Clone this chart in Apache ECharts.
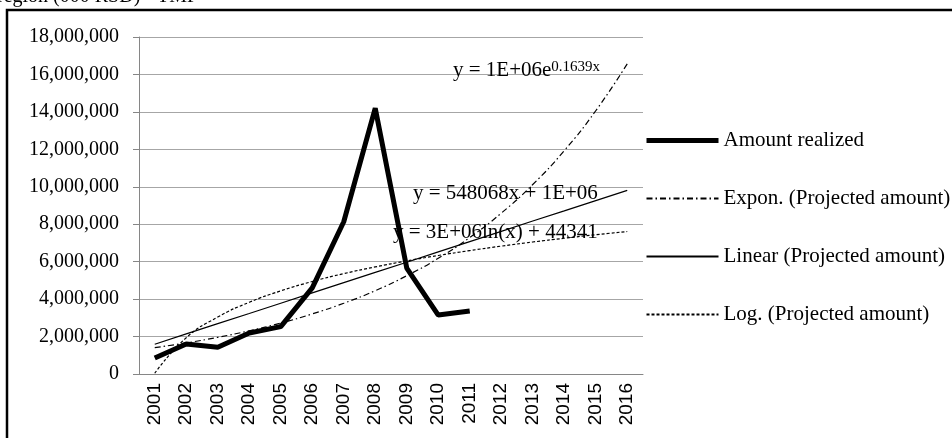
<!DOCTYPE html>
<html>
<head>
<meta charset="utf-8">
<script src="https://cdn.jsdelivr.net/npm/echarts@6/dist/echarts.min.js"></script>
<style>
  html, body { margin: 0; padding: 0; background: #fff; }
  #chart { width: 952px; height: 438px; }
</style>
</head>
<body>
<div id="chart"></div>
<script>
// 数据
var years = ['2001', '2002', '2003', '2004', '2005', '2006', '2007', '2008',
             '2009', '2010', '2011', '2012', '2013', '2014', '2015', '2016'];
var amountRealized = [850000, 1600000, 1430000, 2190000, 2530000, 4600000, 8130000, 14200000,
                      5660000, 3150000, 3370000];
var exponTrend = [1410000, 1660000, 1960000, 2310000, 2720000, 3210000, 3780000, 4450000,
                  5250000, 6180000, 7290000, 8590000, 10120000, 11930000, 14060000, 16570000];
var linearTrend = [1590000, 2140000, 2690000, 3230000, 3780000, 4330000, 4880000, 5430000,
                   5970000, 6520000, 7070000, 7620000, 8170000, 8710000, 9260000, 9810000];
var logTrend = [40000, 1940000, 3040000, 3830000, 4440000, 4940000, 5360000, 5720000,
                6040000, 6330000, 6590000, 6830000, 7050000, 7250000, 7440000, 7610000];
var seriesNames = ['Amount realized', 'Expon. (Projected amount)', 'Linear (Projected amount)', 'Log. (Projected amount)'];

var myChart = echarts.init(document.getElementById('chart'));

var serif = 'Liberation Serif';

var option = {
    animation: false,
    backgroundColor: '#fff',
    grid: { left: 139, right: 309, top: 37, bottom: 64 },
    legend: {
        orient: 'vertical',
        left: 639,
        top: 125,
        itemWidth: 72,
        itemHeight: 14,
        itemGap: 37,
        itemStyle: { opacity: 0 },
        textStyle: { fontFamily: serif, fontSize: 21, color: '#000' },
        data: [
            { name: seriesNames[0], lineStyle: { width: 5 } },
            { name: seriesNames[1] },
            { name: seriesNames[2] },
            { name: seriesNames[3] }
        ]
    },
    xAxis: {
        type: 'category',
        data: years,
        boundaryGap: true,
        axisLine: { lineStyle: { color: '#868686', width: 1 } },
        axisTick: { length: 6, lineStyle: { color: '#868686' } },
        axisLabel: { rotate: 90, margin: 9, fontFamily: 'Liberation Sans', fontSize: 19, color: '#000', interval: 0 }
    },
    yAxis: {
        type: 'value',
        min: 0,
        max: 18000000,
        interval: 2000000,
        axisLine: { show: true, lineStyle: { color: '#868686', width: 1 } },
        axisTick: { show: true, length: 6, lineStyle: { color: '#868686' } },
        axisLabel: {
            margin: 20,
            fontFamily: serif,
            fontSize: 20,
            color: '#000',
            formatter: function (v) { return v.toLocaleString('en-US'); }
        },
        splitLine: { lineStyle: { color: '#a6a6a6', width: 1 } }
    },
    series: [
        {
            name: seriesNames[0],
            type: 'line',
            data: amountRealized,
            symbol: 'none',
            lineStyle: { color: '#000', width: 5 },
            itemStyle: { color: '#000' },
            z: 2
        },
        {
            name: seriesNames[1],
            type: 'line',
            data: exponTrend,
            symbol: 'none',
            smooth: true,
            lineStyle: { color: '#000', width: 1.2, type: [6, 3, 1.5, 3] },
            itemStyle: { color: '#000' },
            z: 3
        },
        {
            name: seriesNames[2],
            type: 'line',
            data: linearTrend,
            symbol: 'none',
            lineStyle: { color: '#000', width: 1.2 },
            itemStyle: { color: '#000' },
            z: 3
        },
        {
            name: seriesNames[3],
            type: 'line',
            data: logTrend,
            symbol: 'none',
            smooth: true,
            lineStyle: { color: '#000', width: 1.2, type: [3, 2] },
            itemStyle: { color: '#000' },
            z: 3
        }
    ],
    graphic: [
        {
            type: 'rect',
            shape: { x: 7, y: 10, width: 980, height: 460 },
            style: { fill: null, stroke: '#000', lineWidth: 2.5 },
            silent: true
        },
        {
            type: 'text',
            x: -3, y: 7,
            style: { text: 'region (000 RSD) - TMP', font: '20px "Liberation Serif"', fill: '#000', verticalAlign: 'bottom' }
        },
        {
            type: 'text',
            x: 453, y: 60,
            z: 10,
            style: {
                text: '{a|y = 1E+06e}{s|0.1639x}',
                rich: {
                    a: { fontFamily: serif, fontSize: 21, color: '#000' },
                    s: { fontFamily: serif, fontSize: 15, color: '#000', verticalAlign: 'top' }
                }
            }
        },
        {
            type: 'text',
            x: 413, y: 183,
            z: 10,
            style: { text: 'y = 548068x + 1E+06', font: '21px "Liberation Serif"', fill: '#000' }
        },
        {
            type: 'text',
            x: 393, y: 222,
            z: 10,
            style: { text: 'y = 3E+06ln(x) + 44341', font: '21px "Liberation Serif"', fill: '#000' }
        }
    ]
};

myChart.setOption(option);
</script>
</body>
</html>
